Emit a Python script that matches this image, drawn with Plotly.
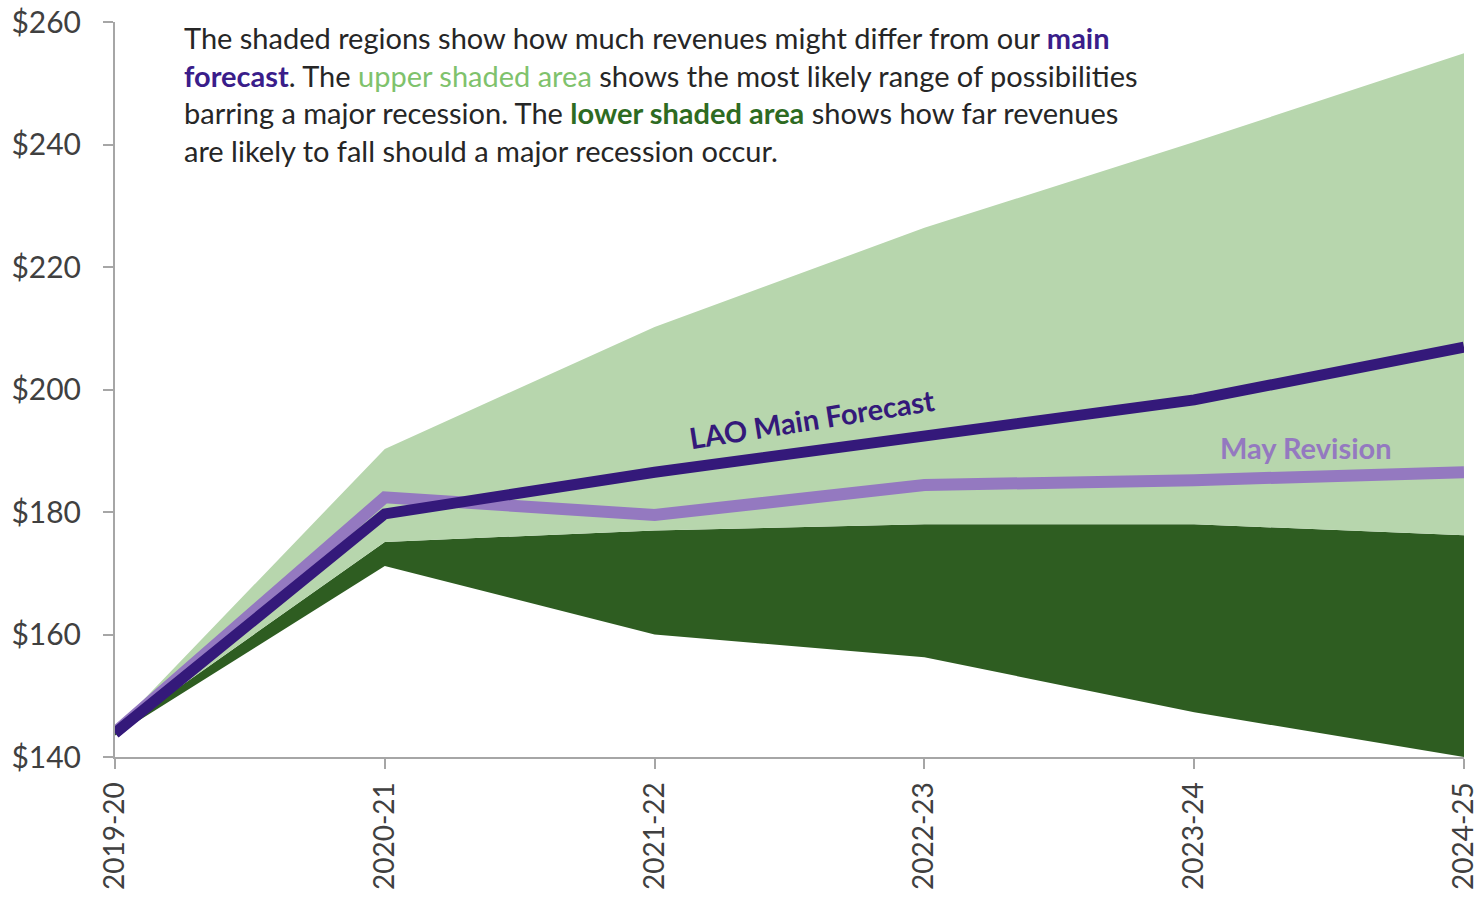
import plotly.graph_objects as go

years = ["2019-20", "2020-21", "2021-22", "2022-23", "2023-24", "2024-25"]
upper_top = [144.5, 190.3, 210.2, 226.4, 240.4, 254.9]
lower_top = [144.0, 175.1, 177.0, 178.0, 178.0, 176.2]
lower_bottom = [143.5, 171.2, 160.0, 156.3, 147.3, 140.0]
main_forecast = [143.9, 179.7, 186.5, 192.4, 198.3, 206.9]
may_revision = [144.0, 182.4, 179.5, 184.4, 185.2, 186.5]

LIGHT = "#b7d6ad"
DARK = "#2e5d21"
MAIN = "#34197a"
MAY = "#9479c0"
FONT = "Lato"

fig = go.Figure()
fig.add_trace(go.Scatter(x=years, y=lower_bottom, mode="lines", line=dict(width=0), showlegend=False, hoverinfo="skip"))
fig.add_trace(go.Scatter(x=years, y=lower_top, mode="lines", line=dict(width=0), fill="tonexty", fillcolor=DARK, showlegend=False))
fig.add_trace(go.Scatter(x=years, y=upper_top, mode="lines", line=dict(width=0), fill="tonexty", fillcolor=LIGHT, showlegend=False))
fig.add_trace(go.Scatter(x=years, y=may_revision, mode="lines", line=dict(color=MAY, width=12), showlegend=False))
fig.add_trace(go.Scatter(x=years, y=main_forecast, mode="lines", line=dict(color=MAIN, width=11), showlegend=False))

fig.update_layout(
    width=1482, height=899,
    margin=dict(l=115, r=18, t=22, b=142, autoexpand=False),
    plot_bgcolor="white", paper_bgcolor="white",
    font=dict(family=FONT, size=28, color="#404040"),
    xaxis=dict(type="category", range=[0, 5], showline=True, linecolor="#a6a6a6", linewidth=2,
               ticks="outside", ticklen=10, tickcolor="#a6a6a6", tickwidth=2, tickangle=-90,
               showgrid=False, zeroline=False, automargin=False, ticklabelstandoff=2,
               tickfont=dict(size=28, color="#404040")),
    yaxis=dict(range=[140, 260], dtick=20, tickprefix="$", showline=True, linecolor="#a6a6a6", linewidth=2,
               ticks="outside", ticklen=10, tickcolor="#a6a6a6", tickwidth=2, showgrid=False, zeroline=False,
               automargin=False, ticklabelstandoff=16,
               tickfont=dict(size=30, color="#404040")),
)

note = ("The shaded regions show how much revenues might differ from our <b><span style='color:#3a1d8a'>main</span></b><br>"
        "<b><span style='color:#3a1d8a'>forecast</span></b>. The <span style='color:#7fc26c'>upper shaded area</span> shows the most likely range of possibilities<br>"
        "barring a major recession. The <b><span style='color:#2e6b22'>lower shaded area</span></b> shows how far revenues<br>"
        "are likely to fall should a major recession occur.")
fig.add_annotation(xref="paper", yref="paper", x=0.05, y=1.005, xanchor="left", yanchor="top",
                   text=note, showarrow=False, align="left", font=dict(family=FONT, size=29, color="#262626"))

fig.add_annotation(x=2.585, y=195.3, xref="x", yref="y", text="<b>LAO Main Forecast</b>", showarrow=False,
                   textangle=-9, font=dict(family=FONT, size=29, color=MAIN))
fig.add_annotation(x=4.415, y=190.6, xref="x", yref="y", text="<b>May Revision</b>", showarrow=False,
                   font=dict(family=FONT, size=29, color=MAY))

fig.write_html("out.html")
